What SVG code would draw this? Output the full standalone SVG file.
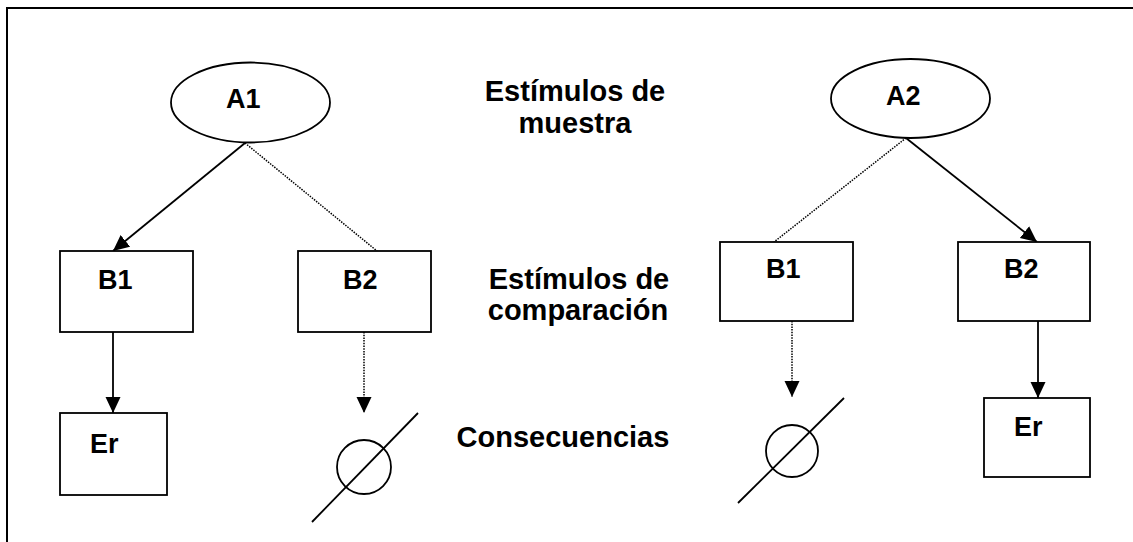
<svg xmlns="http://www.w3.org/2000/svg" width="1133" height="542" viewBox="0 0 1133 542">
<style>
.frame{fill:none;stroke:#000;stroke-width:2}
.box{fill:#fff;stroke:#000;stroke-width:1.8}
.lbl{font-family:"Liberation Sans",Arial,sans-serif;font-weight:bold;font-size:27px;fill:#000}
.mid{font-family:"Liberation Sans",Arial,sans-serif;font-weight:bold;font-size:29px;fill:#000}
.solid{stroke:#000;stroke-width:1.8;fill:none}
.dot{stroke:#000;stroke-width:1.5;stroke-dasharray:1.5 1.2;fill:none}
.null{stroke:#000;stroke-width:1.8;fill:none}
</style>
<defs>
<marker id="ah" markerUnits="userSpaceOnUse" markerWidth="16" markerHeight="16" refX="16" refY="7.5" orient="auto">
<path d="M0,0 L16,7.5 L0,15 z" fill="#000"/>
</marker>
</defs>
<rect class="frame" x="7" y="8" width="1200" height="600"/>
<g id="connectors">
<line class="solid" x1="245" y1="143" x2="113" y2="251" marker-end="url(#ah)"/>
<line class="dot" x1="245" y1="143" x2="377" y2="251"/>
<line class="solid" x1="113" y1="332" x2="113" y2="413" marker-end="url(#ah)"/>
<line class="dot" x1="364" y1="332" x2="364" y2="413" marker-end="url(#ah)"/>
<line class="dot" x1="906" y1="138" x2="774" y2="242"/>
<line class="solid" x1="906" y1="138" x2="1037" y2="242" marker-end="url(#ah)"/>
<line class="solid" x1="1038" y1="321" x2="1038" y2="398" marker-end="url(#ah)"/>
<line class="dot" x1="792" y1="321" x2="792" y2="397" marker-end="url(#ah)"/>
</g>
<g id="A1"><ellipse class="box" cx="250.5" cy="102.5" rx="79.5" ry="40"/><text class="lbl" x="226" y="108">A1</text></g>
<g id="A2"><ellipse class="box" cx="910.5" cy="98.5" rx="79.5" ry="39.5"/><text class="lbl" x="886" y="105">A2</text></g>
<g id="B1-left"><rect class="box" x="60" y="251" width="133" height="81"/><text class="lbl" x="98" y="289">B1</text></g>
<g id="B2-left"><rect class="box" x="298" y="251" width="133" height="81"/><text class="lbl" x="343" y="289">B2</text></g>
<g id="Er-left"><rect class="box" x="60" y="413" width="107" height="82"/><text class="lbl" x="90" y="453">Er</text></g>
<g id="null-left"><circle class="null" cx="364" cy="467" r="27"/><line class="null" x1="312" y1="522" x2="418" y2="413"/></g>
<g id="B1-right"><rect class="box" x="720" y="242" width="133" height="79"/><text class="lbl" x="766" y="278">B1</text></g>
<g id="B2-right"><rect class="box" x="958" y="242" width="132" height="79"/><text class="lbl" x="1004" y="278">B2</text></g>
<g id="Er-right"><rect class="box" x="984" y="398" width="106" height="79"/><text class="lbl" x="1014" y="436">Er</text></g>
<g id="null-right"><circle class="null" cx="792" cy="451" r="26"/><line class="null" x1="738" y1="503" x2="844" y2="398"/></g>
<g id="label-muestra"><text class="mid" text-anchor="middle"><tspan x="575" y="101">Estímulos de</tspan><tspan x="575" y="133">muestra</tspan></text></g>
<g id="label-comparacion"><text class="mid" text-anchor="middle"><tspan x="579" y="289">Estímulos de</tspan><tspan x="578" y="320">comparación</tspan></text></g>
<g id="label-consecuencias"><text class="mid" text-anchor="middle" x="563" y="447">Consecuencias</text></g>
</svg>
